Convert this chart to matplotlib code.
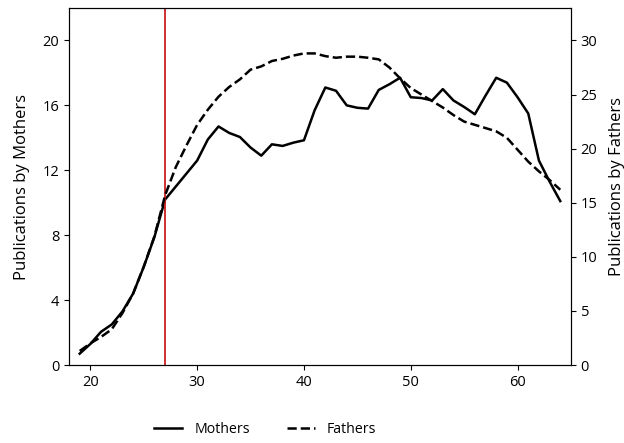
import numpy as np
import matplotlib.pyplot as plt

plt.rcParams['font.family'] = ['Open Sans', 'DejaVu Sans']

ages = list(range(19, 65))
mothers = [0.7, 1.3, 2.05, 2.5, 3.3, 4.4, 6.05, 7.9, 10.2, 11.0, 11.8, 12.6, 13.9, 14.7,
           14.3, 14.05, 13.4, 12.9, 13.6, 13.5, 13.7, 13.85, 15.7, 17.1, 16.9, 16.0,
           15.85, 15.8, 16.95, 17.3, 17.7, 16.5, 16.45, 16.3, 17.0, 16.3, 15.9, 15.45,
           16.6, 17.7, 17.4, 16.5, 15.5, 12.6, 11.3, 10.1]
fathers = [1.3, 2.0, 2.6, 3.3, 4.8, 6.6, 9.1, 11.9, 15.7, 18.3, 20.3, 22.2, 23.6, 24.8,
           25.7, 26.4, 27.3, 27.6, 28.1, 28.3, 28.6, 28.8, 28.8, 28.55, 28.4, 28.5,
           28.5, 28.4, 28.25, 27.5, 26.5, 25.6, 25.0, 24.4, 23.8, 23.1, 22.5, 22.2,
           21.9, 21.6, 21.0, 19.9, 18.8, 17.9, 17.1, 16.2]
cutoff_age = 27

fig = plt.figure(figsize=(6.24, 4.43), dpi=100)
fig.subplots_adjust(left=0.1106, right=0.915, top=0.982, bottom=0.176)
ax = fig.add_subplot(1, 1, 1)
ax2 = ax.twinx()

l1, = ax.plot(ages, mothers, c="black", lw=1.8, label="Mothers")
l2, = ax2.plot(ages, fathers, c="black", lw=1.8, ls="--", label="Fathers")
ax.axvline(cutoff_age, c="#cc1f1f", lw=1.3)

ax.set_xlim(18, 65)
ax.set_ylim(0, 22)
ax2.set_ylim(0, 33)
ax.set_xticks([20, 30, 40, 50, 60])
ax.set_yticks([0, 4, 8, 12, 16, 20])
ax2.set_yticks([0, 5, 10, 15, 20, 25, 30])
ax.tick_params(labelsize=10.5)
ax2.tick_params(labelsize=10.5)
ax.set_ylabel("Publications by Mothers", fontsize=12, labelpad=9)
ax2.set_ylabel("Publications by Fathers", fontsize=12, labelpad=8.5)

fig.legend(handles=[l1, l2], loc="center", bbox_to_anchor=(0.425, 0.03), ncol=2,
           frameon=False, fontsize=10.2, handlelength=2.0, handletextpad=0.85,
           columnspacing=2.6)

plt.savefig("out.png", dpi=100)
